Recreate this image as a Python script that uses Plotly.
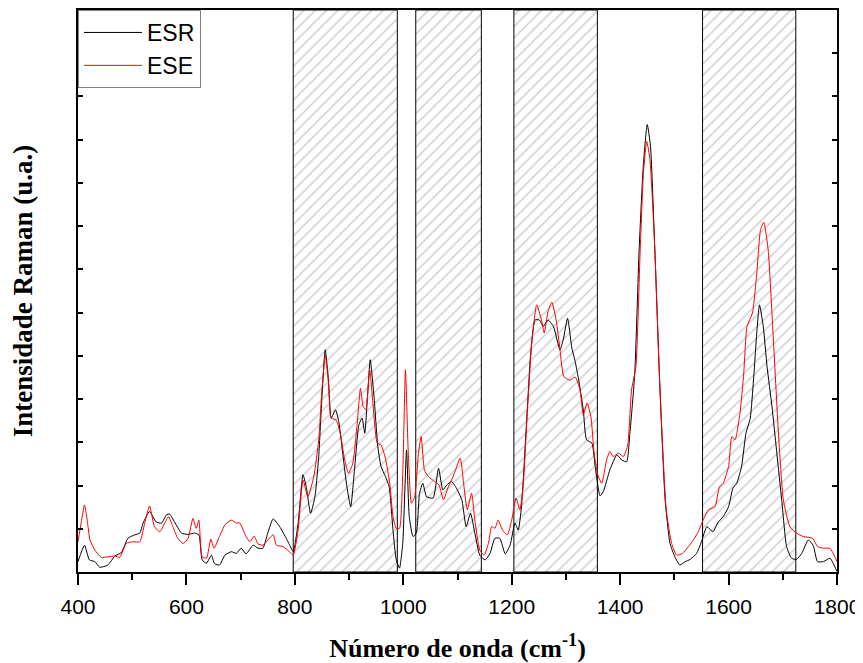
import plotly.graph_objects as go

# Raman spectra (wavenumber in cm-1, intensity in a.u.)
esr_x = [400, 412, 421, 431, 440, 455, 468, 480, 492, 505, 514, 520, 532, 544, 554, 563, 569, 578, 591, 603,
         615, 623, 629, 637, 646, 652, 661, 671, 683, 692, 701, 710, 723, 732, 741, 750, 760, 772, 784, 789,
         797, 806, 815, 821, 829, 837, 844, 850, 856, 862, 867, 875, 881, 889, 896, 903, 910, 918, 924, 929,
         934, 939, 946, 953, 959, 967, 974, 981, 987, 993, 999, 1006, 1011, 1018, 1024, 1030, 1036, 1043, 1055, 1065,
         1073, 1080, 1089, 1098, 1108, 1116, 1124, 1132, 1141, 1151, 1160, 1169, 1178, 1188, 1197, 1206, 1212, 1218, 1228, 1235,
         1243, 1251, 1258, 1267, 1277, 1289, 1295, 1303, 1311, 1317, 1323, 1332, 1338, 1348, 1354, 1363, 1369, 1381, 1394, 1403,
         1412, 1418, 1427, 1435, 1443, 1450, 1456, 1464, 1473, 1483, 1492, 1501, 1510, 1520, 1529, 1541, 1550, 1560, 1571, 1581,
         1590, 1600, 1608, 1615, 1624, 1632, 1640, 1646, 1652, 1657, 1664, 1671, 1680, 1689, 1698, 1707, 1716, 1725, 1735, 1747,
         1756, 1764, 1775, 1787, 1793, 1800]
esr_y = [24, 62, 28, 24, 11, 16, 37, 45, 78, 86, 90, 113, 140, 116, 113, 132, 134, 116, 90, 87,
         90, 86, 28, 20, 39, 19, 16, 39, 47, 43, 55, 42, 62, 55, 55, 90, 123, 105, 78, 66,
         47, 113, 225, 197, 136, 174, 267, 406, 514, 444, 356, 375, 348, 267, 197, 151, 236, 340, 356, 321,
         406, 491, 406, 290, 244, 221, 197, 97, 28, 9, 66, 282, 128, 82, 90, 182, 205, 174, 171, 240,
         190, 201, 209, 194, 167, 105, 136, 90, 39, 28, 43, 78, 78, 42, 62, 113, 97, 151, 360, 506,
         583, 583, 568, 583, 568, 514, 537, 587, 518, 487, 448, 375, 306, 298, 244, 176, 186, 236, 271, 259,
         255, 321, 460, 745, 946, 1035, 985, 745, 437, 167, 66, 35, 16, 24, 29, 43, 70, 105, 93, 116,
         128, 151, 194, 205, 244, 321, 356, 444, 553, 618, 568, 475, 383, 275, 167, 59, 32, 29, 43, 74,
         62, 24, 24, 32, 20, 1]

ese_x = [400, 406, 412, 418, 422, 431, 443, 455, 468, 477, 489, 501, 514, 523, 532, 541, 551, 560, 567, 575,
         584, 594, 603, 612, 618, 623, 629, 637, 645, 651, 661, 671, 683, 692, 698, 710, 717, 725, 732, 741,
         750, 760, 766, 778, 790, 797, 806, 815, 824, 835, 844, 850, 856, 862, 867, 876, 883, 892, 899, 907,
         915, 921, 926, 931, 938, 944, 952, 959, 967, 975, 981, 987, 993, 999, 1004, 1009, 1015, 1021, 1028, 1033,
         1039, 1046, 1058, 1066, 1074, 1083, 1092, 1105, 1112, 1118, 1126, 1132, 1141, 1149, 1157, 1163, 1169, 1175, 1183, 1192,
         1200, 1208, 1215, 1221, 1229, 1237, 1246, 1255, 1260, 1267, 1274, 1282, 1289, 1296, 1307, 1317, 1326, 1332, 1339, 1346,
         1352, 1358, 1366, 1375, 1381, 1387, 1397, 1406, 1414, 1421, 1429, 1437, 1443, 1449, 1455, 1464, 1473, 1485, 1495, 1504,
         1515, 1526, 1535, 1544, 1553, 1563, 1575, 1583, 1590, 1600, 1606, 1612, 1621, 1628, 1634, 1644, 1652, 1659, 1665, 1673,
         1682, 1692, 1701, 1713, 1725, 1738, 1755, 1764, 1775, 1787, 1796, 1800]
ese_y = [70, 115, 155, 110, 74, 51, 34, 35, 37, 34, 66, 70, 70, 113, 153, 105, 93, 113, 128, 105,
         78, 66, 78, 124, 101, 120, 35, 32, 76, 55, 82, 109, 120, 113, 114, 82, 70, 83, 65, 62,
         74, 86, 62, 59, 47, 39, 97, 213, 174, 221, 306, 421, 502, 437, 356, 352, 325, 259, 228, 252,
         344, 425, 383, 375, 468, 390, 298, 294, 263, 205, 128, 101, 101, 228, 468, 282, 159, 174, 275, 313,
         236, 221, 209, 201, 167, 197, 221, 263, 197, 144, 182, 120, 51, 39, 66, 105, 101, 120, 97, 86,
         120, 171, 144, 197, 375, 529, 618, 583, 553, 603, 624, 583, 514, 452, 444, 451, 421, 363, 391, 360,
         275, 228, 205, 259, 279, 267, 275, 267, 294, 421, 475, 745, 923, 996, 954, 745, 437, 144, 66, 39,
         43, 59, 74, 93, 120, 144, 151, 197, 205, 244, 313, 306, 367, 460, 568, 599, 691, 792, 809, 745,
         553, 321, 167, 105, 90, 82, 78, 59, 55, 55, 35, 24]

# highlighted bands (cm-1)
band_left = [797, 1023, 1204, 1552]
band_right = [989, 1144, 1358, 1724]

y_top = 1300

fig = go.Figure()

for l, r in zip(band_left, band_right):
    fig.add_trace(go.Scatter(
        x=[l, l, r, r, l], y=[0, y_top, y_top, 0, 0],
        mode="lines", fill="toself", fillcolor="white",
        fillpattern=dict(shape="/", fgcolor="#aaaaaa", bgcolor="white", size=8, solidity=0.22),
        line=dict(color="black", width=1), showlegend=False, hoverinfo="skip"))

fig.add_trace(go.Scatter(x=esr_x, y=esr_y, mode="lines", name="ESR",
                         line=dict(color="black", width=1, shape="spline", smoothing=0.5)))
fig.add_trace(go.Scatter(x=ese_x, y=ese_y, mode="lines", name="ESE",
                         line=dict(color="red", width=1, shape="spline", smoothing=0.5)))

tick_font = dict(family="Liberation Sans, Arial", size=21, color="black")

# page body adds 8px on left/top, so the figure is a bit smaller than the window
fig.update_layout(
    width=855, height=655,
    margin=dict(l=70, r=26, t=2, b=91),
    plot_bgcolor="white", paper_bgcolor="white",
    legend=dict(x=0, y=1, xanchor="left", yanchor="top",
                bgcolor="white", bordercolor="#808080", borderwidth=1,
                font=dict(family="Liberation Sans, Arial", size=23, color="black"),
                tracegroupgap=0, itemwidth=58),
)

fig.update_xaxes(
    range=[400, 1800], dtick=200, tick0=400, automargin=False,
    showline=True, linecolor="black", linewidth=2, mirror="allticks",
    ticks="outside", ticklen=11, tickwidth=2, tickcolor="black",
    minor=dict(ticks="outside", ticklen=6, tickwidth=2, dtick=100, tickcolor="black"),
    showgrid=False, zeroline=False, tickfont=tick_font, ticklabelstandoff=4,
    title=dict(text="<b>Número de onda (cm<sup>-1</sup>)</b>",
               font=dict(family="Liberation Serif, Times New Roman, serif", size=26, color="black"),
               standoff=24),
)
fig.update_yaxes(
    range=[0, y_top], dtick=100, automargin=False,
    showline=True, linecolor="black", linewidth=2, mirror="allticks",
    ticks="inside", ticklen=5, tickwidth=1.5, tickcolor="black",
    showticklabels=False, showgrid=False, zeroline=False,
    title=dict(text="<b>Intensidade Raman (u.a.)</b>",
               font=dict(family="Liberation Serif, Times New Roman, serif", size=27, color="black"),
               standoff=40),
)

fig.write_html("out.html")
